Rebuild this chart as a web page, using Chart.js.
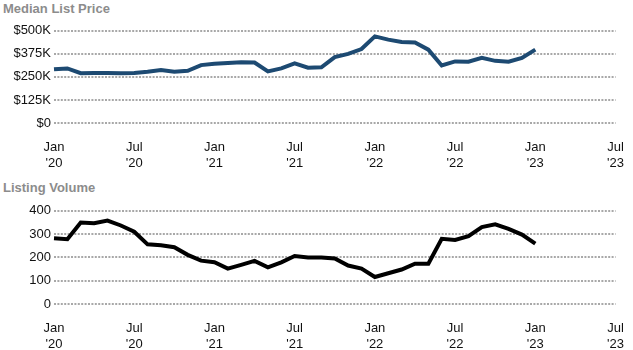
<!DOCTYPE html>
<html>
<head>
<meta charset="utf-8">
<script src="https://cdn.jsdelivr.net/npm/chart.js@4"></script>
<style>
  body { margin: 0; background: #fff; width: 633px; height: 350px; position: relative; overflow: hidden; }
  .title { position: absolute; left: 3px; font: bold 13px "Liberation Sans", Arial, sans-serif; color: #8c8c8c; }
  .box { position: absolute; left: 0; width: 633px; }
</style>
</head>
<body>
<div class="title" style="top:1px">Median List Price</div>
<div class="box" style="top:20px;height:147px"><canvas id="priceChart"></canvas></div>
<div class="title" style="top:180px">Listing Volume</div>
<div class="box" style="top:200px;height:148px"><canvas id="volumeChart"></canvas></div>
<script>
// months Jan 2020 .. Jul 2023 (x axis runs to Jul '23, data ends Jan '23)
const months = [
  'Jan 2020','Feb 2020','Mar 2020','Apr 2020','May 2020','Jun 2020','Jul 2020','Aug 2020','Sep 2020','Oct 2020','Nov 2020','Dec 2020',
  'Jan 2021','Feb 2021','Mar 2021','Apr 2021','May 2021','Jun 2021','Jul 2021','Aug 2021','Sep 2021','Oct 2021','Nov 2021','Dec 2021',
  'Jan 2022','Feb 2022','Mar 2022','Apr 2022','May 2022','Jun 2022','Jul 2022','Aug 2022','Sep 2022','Oct 2022','Nov 2022','Dec 2022',
  'Jan 2023','Feb 2023','Mar 2023','Apr 2023','May 2023','Jun 2023','Jul 2023'
];

// median list price, in $K
const medianPrice = [
  291, 296, 270, 271, 271, 270, 271, 278, 287, 278, 283, 314,
  321, 326, 330, 328, 280, 296, 323, 300, 302, 357, 375, 401,
  470, 452, 439, 436, 398, 312, 334, 332, 353, 337, 332, 353,
  398
];

// listing volume
const listingVolume = [
  282, 278, 350, 347, 358, 337, 310, 256, 252, 244, 211, 186,
  179, 152, 168, 185, 157, 179, 206, 200, 200, 195, 165, 152,
  116, 132, 148, 173, 173, 280, 275, 291, 330, 342, 322, 298,
  259
];

const priceTicks = [0, 125, 250, 375, 500];
const volumeTicks = [0, 100, 200, 300, 400];

const fontFam = '"Liberation Sans", Arial, sans-serif';

function monthTick(idx){
  const parts = months[idx].split(' ');
  if (parts[0] === 'Jan' || parts[0] === 'Jul') return [parts[0], "'" + parts[1].slice(2)];
  return '';
}

function makeChart(id, values, color, ticks, fmt){
  const ctx = document.getElementById(id).getContext('2d');
  return new Chart(ctx, {
    type: 'line',
    data: {
      labels: months,
      datasets: [{
        data: values,
        borderColor: color,
        borderWidth: 4,
        pointRadius: 0,
        tension: 0,
        fill: false
      }]
    },
    options: {
      responsive: true,
      maintainAspectRatio: false,
      animation: false,
      layout: { padding: { top: 0, right: 13, left: 0, bottom: 0 } },
      plugins: { legend: { display: false }, tooltip: { enabled: false } },
      scales: {
        x: {
          offset: false,
          grid: { display: false },
          border: { display: false },
          afterFit: (axis) => { axis.height = 44; },
          ticks: {
            autoSkip: false,
            maxRotation: 0,
            padding: 9,
            color: '#111',
            font: { family: fontFam, size: 13 },
            callback: (v) => monthTick(v)
          }
        },
        y: {
          min: ticks[0],
          max: ticks[ticks.length - 1],
          afterBuildTicks: (axis) => { axis.ticks = ticks.map(v => ({ value: v })); },
          afterFit: (axis) => { axis.width = 54; },
          border: { display: false, dash: [2, 1.4] },
          grid: {
            color: '#a8a8a8',
            lineWidth: 2,
            drawTicks: false
          },
          ticks: {
            padding: 3,
            color: '#111',
            font: { family: fontFam, size: 13 },
            callback: fmt
          }
        }
      }
    }
  });
}

makeChart('priceChart', medianPrice, '#1d4a72', priceTicks, (v) => v === 0 ? '$0' : '$' + v + 'K');
makeChart('volumeChart', listingVolume, '#000000', volumeTicks, (v) => String(v));
</script>
</body>
</html>
